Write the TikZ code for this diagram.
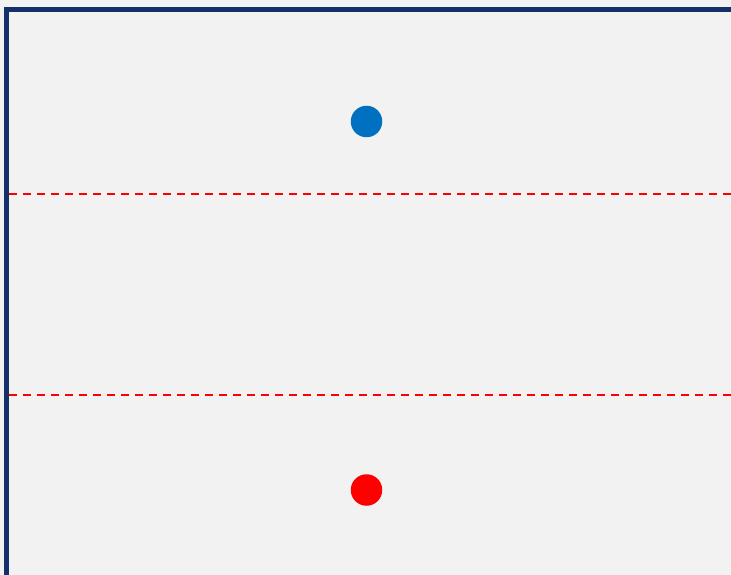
\documentclass[tikz,border=0pt]{standalone}
\usepackage{xcolor}
\definecolor{bgray}{RGB}{242,242,242}
\definecolor{frameblue}{RGB}{19,48,106}
\definecolor{dotblue}{RGB}{0,112,192}
\definecolor{dotred}{RGB}{255,0,0}
\usetikzlibrary{positioning}

\begin{document}
\begin{tikzpicture}[x=1pt,y=-1pt]
  % Background
  \fill[bgray] (0,0) rectangle (731,575);
  \useasboundingbox (0,0) rectangle (731,575);

  % Frame (left and top edges)
  \draw[frameblue, line width=5pt] (6.5,575) -- (6.5,9.5) -- (731,9.5);

  % Dashed boundaries
  \coordinate (upperL) at (9,194);
  \coordinate (upperR) at (731,194);
  \coordinate (lowerL) at (9,395);
  \coordinate (lowerR) at (731,395);
  \draw[dotred, line width=1.5pt, dash pattern=on 8pt off 6pt] (upperL) -- (upperR);
  \draw[dotred, line width=1.5pt, dash pattern=on 8pt off 6pt] (lowerL) -- (lowerR);

  % Dots
  \node[circle, fill=dotblue, inner sep=0pt, minimum size=31.5pt] (bluedot) at (366.5,121.5) {};
  \node[circle, fill=dotred, inner sep=0pt, minimum size=31.5pt] (reddot) at (366.5,490) {};
\end{tikzpicture}
\end{document}
